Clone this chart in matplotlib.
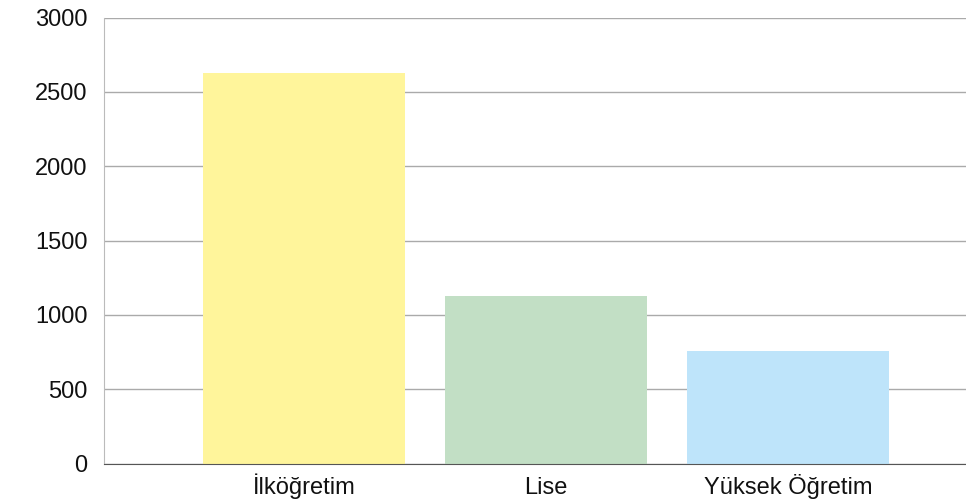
import matplotlib.pyplot as plt

categories = ['İlköğretim', 'Lise', 'Yüksek Öğretim']
values = [2630, 1130, 760]
colors = ['#FFF59B', '#C2DFC5', '#BEE4FA']
y_ticks = [0, 500, 1000, 1500, 2000, 2500, 3000]

plt.rcParams['font.family'] = ['Liberation Sans', 'DejaVu Sans']

fig = plt.figure(figsize=(9.66, 5.04), dpi=100)
ax = fig.add_axes([104 / 966, 40.3 / 504, 862 / 966, 446.2 / 504])

x = list(range(len(categories)))
ax.bar(x, values, width=0.835, color=colors, zorder=3)

ax.set_xlim(-0.8264, 2.7355)
ax.set_ylim(0, 3000)
ax.set_yticks(y_ticks)
ax.set_xticks(x)
ax.set_xticklabels(categories, va='baseline')

ax.grid(axis='y', color='#aaaaaa', linewidth=1, zorder=0)
ax.tick_params(axis='both', length=0, labelsize=17, colors='#111111')
ax.tick_params(axis='y', pad=12)
ax.tick_params(axis='x', pad=21.5)

ax.spines['top'].set_visible(False)
ax.spines['right'].set_visible(False)
ax.spines['left'].set_color('#bbbbbb')
ax.spines['bottom'].set_color('#555555')
ax.spines['bottom'].set_zorder(4)

fig.savefig('out.png', dpi=100)
